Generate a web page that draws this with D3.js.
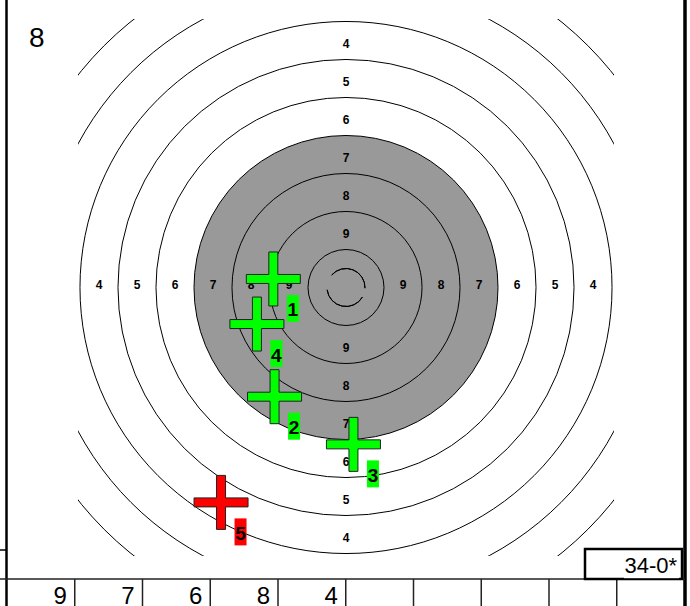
<!DOCTYPE html>
<html><head><meta charset="utf-8">
<script src="https://cdn.jsdelivr.net/npm/d3@7"></script>
<style>html,body{margin:0;padding:0;background:#fff;}svg{display:block;font-family:"Liberation Sans",Arial,sans-serif;}</style>
</head><body>
<svg id="chart" width="690" height="606"></svg>
<script>
// ---- data ----
const seriesNumber = "8";
const ringScores = [10, 9, 8, 7, 6, 5, 4, 3, 2, 1];
const ringRadiusMm = [25, 50, 75, 100, 125, 150, 175, 200, 225, 250];
const xRingRadiusMm = 12.5;
const blackRadiusMm = 100;
const labelScores = [9, 8, 7, 6, 5, 4];
const labelRadiusMm = [37.5, 62.5, 87.5, 112.5, 137.5, 162.5];
const shotNumbers = [1, 2, 3, 4, 5];
const shotXmm = [-47.8, -47.0, 4.9, -58.6, -82.2];
const shotYmm = [5.6, -71.7, -103.0, -24.0, -141.1];
const shotScores = [9, 7, 6, 8, 4];
const tableSlots = [1, 2, 3, 4, 5, 6, 7, 8, 9, 10];
const totalLabel = "34-0*";

// ---- scales ----
const W = 690, H = 606;
const half = 176.3;
const x = d3.scaleLinear().domain([-half, half]).range([78, 614]);
const y = d3.scaleLinear().domain([-half, half]).range([556, 19]);
const r = d3.scaleLinear().domain([0, 2 * half]).range([0, 536]);
const cx = x(0), cy = y(0);
const deg = Math.PI / 180;

const svg = d3.select("#chart");
svg.append("defs").append("clipPath").attr("id", "tclip")
  .append("rect").attr("x", x(-half)).attr("y", y(half))
  .attr("width", x(half) - x(-half)).attr("height", y(-half) - y(half));

const target = svg.append("g").attr("clip-path", "url(#tclip)");
target.append("circle").attr("cx", cx).attr("cy", cy).attr("r", r(blackRadiusMm))
  .attr("fill", "#999999");
target.selectAll("circle.ring").data(ringRadiusMm).join("circle")
  .attr("class", "ring").attr("cx", cx).attr("cy", cy).attr("r", d => r(d))
  .attr("fill", "none").attr("stroke", "#000").attr("stroke-width", 1);

// inner X ring (broken arc)
const xr = r(xRingRadiusMm);
target.selectAll("path.xring").data([[-49 * deg, 92 * deg], [120 * deg, 263 * deg]]).join("path")
  .attr("class", "xring")
  .attr("transform", `translate(${cx},${cy})`)
  .attr("d", d => d3.arc()({innerRadius: xr, outerRadius: xr, startAngle: d[0], endAngle: d[1]}))
  .attr("fill", "none").attr("stroke", "#000").attr("stroke-width", 1);

// ring labels
const lab = svg.append("g").attr("font-weight", "bold").attr("font-size", 12).attr("text-anchor", "middle");
const dirs = [[-1, 0, 1], [1, 0, 1], [0, 1, 7.5], [0, -1, 7.5]];
dirs.forEach(([dx, dy, off]) => {
  lab.selectAll(null).data(labelScores).join("text")
    .attr("x", (d, i) => x(dx * labelRadiusMm[i]))
    .attr("y", (d, i) => y(dy * labelRadiusMm[i]) + off)
    .text(d => d);
});

// top-left series number
svg.append("text").attr("x", 29).attr("y", 47).attr("font-size", 28).text(seriesNumber);

// shots
const arm = 27, th = 4.5;
const crossPath = `M${-th},${-arm}H${th}V${-th}H${arm}V${th}H${th}V${arm}H${-th}V${th}H${-arm}V${-th}H${-th}Z`;
const shots = shotNumbers.map((n, i) => ({n, x: shotXmm[i], y: shotYmm[i], s: shotScores[i], last: i === shotNumbers.length - 1}));
const sg = svg.append("g");
shots.forEach(d => {
  const col = d.last ? "#ff0000" : "#00ff00";
  const g = sg.append("g").attr("transform", `translate(${x(d.x)},${y(d.y)})`);
  g.append("path").attr("d", crossPath).attr("fill", col).attr("stroke", "#222").attr("stroke-width", 1);
  g.append("rect").attr("x", 13.5).attr("y", 16).attr("width", 12).attr("height", 27).attr("fill", col);
  g.append("text").attr("x", 19.5).attr("y", 37.5).attr("text-anchor", "middle")
    .attr("font-weight", "bold").attr("font-size", 19).attr("fill", "#000").text(d.n);
});

// frame
svg.append("line").attr("x1", 6.5).attr("x2", 6.5).attr("y1", 0).attr("y2", H).attr("stroke", "#000").attr("stroke-width", 2.5);
svg.append("line").attr("x1", 685).attr("x2", 685).attr("y1", 0).attr("y2", H).attr("stroke", "#000").attr("stroke-width", 3.5);
svg.append("line").attr("x1", 0).attr("x2", 7).attr("y1", 550).attr("y2", 550).attr("stroke", "#000").attr("stroke-width", 1.5);

// results table
const band = d3.scaleBand().domain(tableSlots).range([7, 684.5]);
svg.append("line").attr("x1", 0).attr("x2", 685).attr("y1", 579).attr("y2", 579).attr("stroke", "#222").attr("stroke-width", 1.5);
svg.selectAll("line.cell").data(tableSlots.slice(1)).join("line").attr("class", "cell")
  .attr("x1", d => band(d)).attr("x2", d => band(d)).attr("y1", 579).attr("y2", H)
  .attr("stroke", "#222").attr("stroke-width", 1.5);
svg.selectAll("text.score").data(shotScores).join("text").attr("class", "score")
  .attr("x", (d, i) => band(tableSlots[i]) + band.bandwidth() - 8).attr("y", 604)
  .attr("text-anchor", "end").attr("font-size", 24).text(d => d);

// total box
svg.append("rect").attr("x", 585).attr("y", 549).attr("width", 97).attr("height", 30)
  .attr("fill", "#fff").attr("stroke", "#000").attr("stroke-width", 2.5);
svg.append("rect").attr("x", 624).attr("y", 553).attr("width", 55).attr("height", 25.2).attr("fill", "#fff");
svg.append("text").attr("x", 677).attr("y", 573).attr("text-anchor", "end").attr("font-size", 22).text(totalLabel);
</script>
</body></html>
